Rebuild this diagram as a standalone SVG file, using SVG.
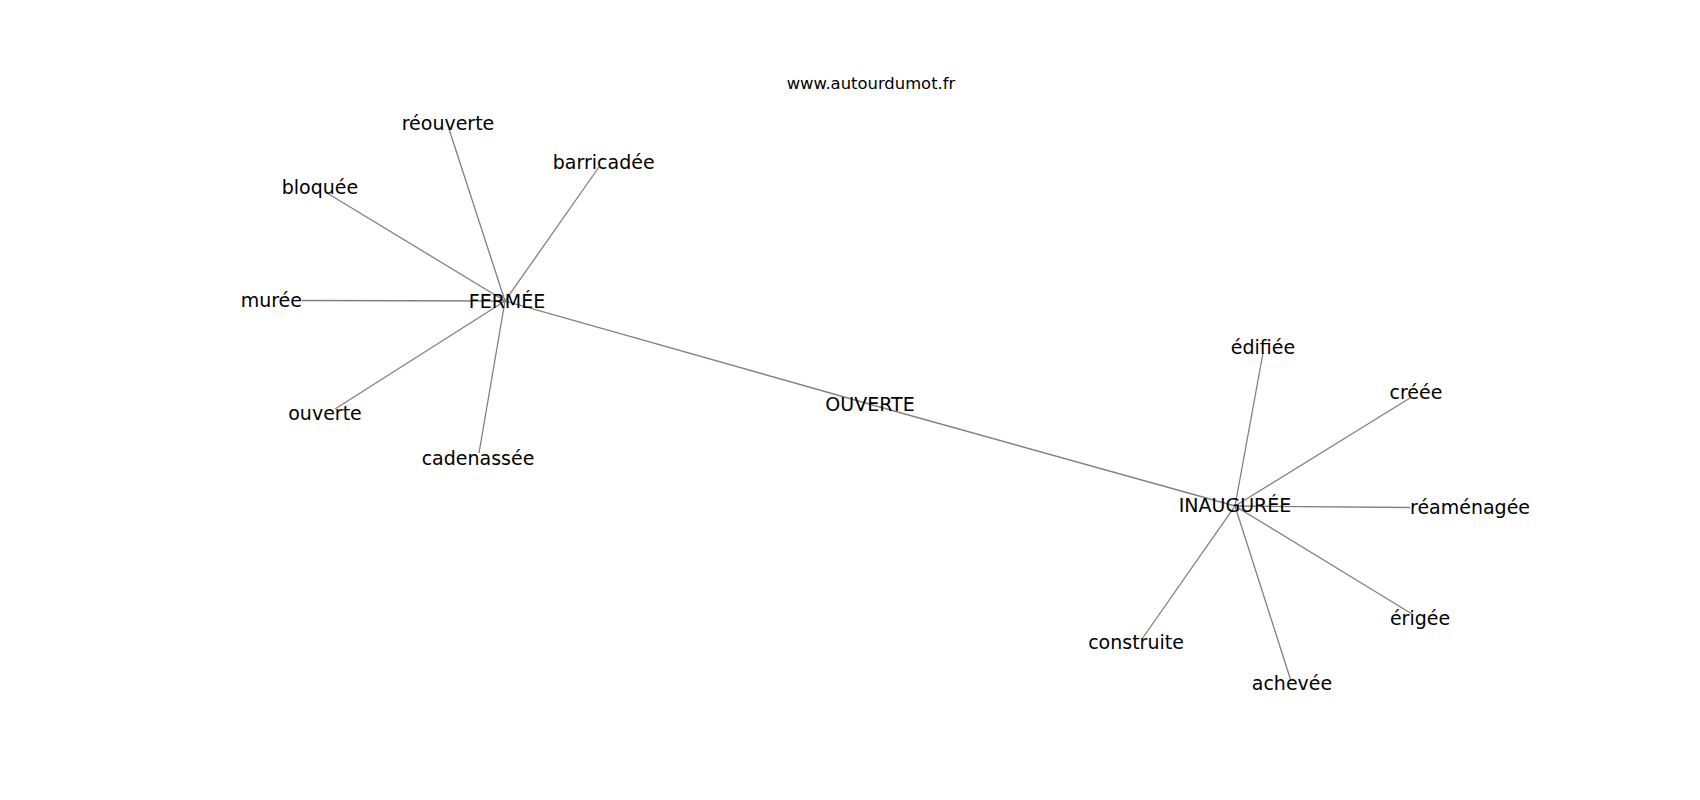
<svg xmlns="http://www.w3.org/2000/svg" width="1700" height="800" viewBox="0 0 1700 800">
<style>
  .edge { stroke: #808080; stroke-width: 1.3; fill: none; }
  .lbl { font-family: "DejaVu Sans", "Liberation Sans", sans-serif; font-size: 19px; fill: #000000; }
  .title { font-family: "DejaVu Sans", "Liberation Sans", sans-serif; font-size: 16.4px; fill: #000000; text-anchor: middle; }
  .c { text-anchor: middle; }
  .s { text-anchor: start; }
  .e { text-anchor: end; }
</style>
<rect x="0" y="0" width="1700" height="800" fill="#ffffff"/>
<text class="title" x="871" y="89">www.autourdumot.fr</text>
<g id="connectors">
  <line class="edge" x1="505" y1="301" x2="449" y2="129"/>
  <line class="edge" x1="505" y1="301" x2="599" y2="167"/>
  <line class="edge" x1="505" y1="301" x2="327" y2="193"/>
  <line class="edge" x1="505" y1="301" x2="302" y2="300.5"/>
  <line class="edge" x1="505" y1="301" x2="335" y2="409"/>
  <line class="edge" x1="505" y1="301" x2="479" y2="453"/>
  <line class="edge" x1="505" y1="301" x2="869" y2="404"/>
  <line class="edge" x1="869" y1="404" x2="1235" y2="506"/>
  <line class="edge" x1="1235" y1="506" x2="1263" y2="353"/>
  <line class="edge" x1="1235" y1="506" x2="1410" y2="398"/>
  <line class="edge" x1="1235" y1="506" x2="1410" y2="507.5"/>
  <line class="edge" x1="1235" y1="506" x2="1412" y2="614"/>
  <line class="edge" x1="1235" y1="506" x2="1291" y2="681"/>
  <line class="edge" x1="1235" y1="506" x2="1142" y2="639"/>
</g>
<g id="node-fermee"><text class="lbl c" x="507" y="308">FERMÉE</text></g>
<g id="node-reouverte"><text class="lbl c" x="448" y="130">réouverte</text></g>
<g id="node-barricadee"><text class="lbl c" x="603.7" y="169">barricadée</text></g>
<g id="node-bloquee"><text class="lbl c" x="320" y="194">bloquée</text></g>
<g id="node-muree"><text class="lbl e" x="302" y="307">murée</text></g>
<g id="node-ouverte"><text class="lbl c" x="325" y="420">ouverte</text></g>
<g id="node-cadenassee"><text class="lbl c" x="478" y="464.5">cadenassée</text></g>
<g id="node-OUVERTE"><text class="lbl c" x="870" y="410.5">OUVERTE</text></g>
<g id="node-inauguree"><text class="lbl c" x="1235" y="512">INAUGURÉE</text></g>
<g id="node-edifiee"><text class="lbl c" x="1263" y="354">édifiée</text></g>
<g id="node-creee"><text class="lbl c" x="1416" y="399">créée</text></g>
<g id="node-reamenagee"><text class="lbl s" x="1410" y="513.5">réaménagée</text></g>
<g id="node-erigee"><text class="lbl c" x="1420" y="624.5">érigée</text></g>
<g id="node-achevee"><text class="lbl c" x="1292" y="690">achevée</text></g>
<g id="node-construite"><text class="lbl c" x="1136" y="648.5">construite</text></g>
</svg>
